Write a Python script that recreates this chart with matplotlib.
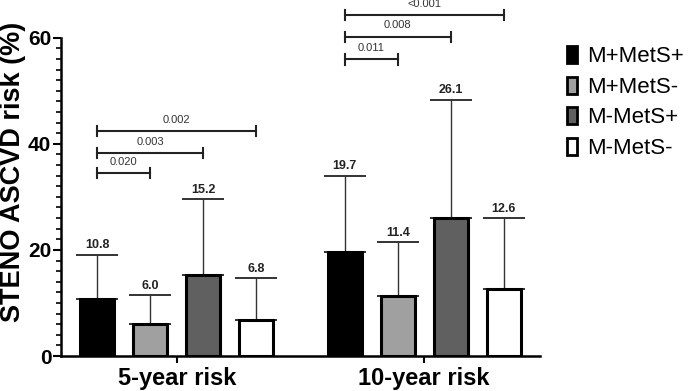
import matplotlib.pyplot as plt
from matplotlib.patches import Patch
from matplotlib.ticker import MultipleLocator

plt.rcParams['font.family'] = ['Liberation Sans', 'DejaVu Sans']

# data
periods = ['5-year risk', '10-year risk']
groups = ['M+MetS+', 'M+MetS-', 'M-MetS+', 'M-MetS-']
colors = ['#000000', '#a0a0a0', '#606060', '#ffffff']
means_5yr = [10.8, 6.0, 15.2, 6.8]
sd_5yr = [8.3, 5.5, 14.4, 7.9]
means_10yr = [19.7, 11.4, 26.1, 12.6]
sd_10yr = [14.3, 10.0, 22.2, 13.4]
# (period index, bar from, bar to, height, p-value)
pvals = [
    (0, 0, 1, 34.5, '0.020'),
    (0, 0, 2, 38.2, '0.003'),
    (0, 0, 3, 42.4, '0.002'),
    (1, 0, 1, 55.9, '0.011'),
    (1, 0, 2, 60.2, '0.008'),
    (1, 0, 3, 64.3, '<0.001'),
]

means = [means_5yr, means_10yr]
sds = [sd_5yr, sd_10yr]
step = 0.214
width = 0.137

def xpos(p, i):
    return p + (i - 1.5) * step

fig = plt.figure(figsize=(6.93, 3.91), dpi=100)
ax = fig.add_axes([0.088, 0.0895, 0.6912, 0.814])

for p in range(2):
    for i in range(4):
        x = xpos(p, i)
        m = means[p][i]
        s = sds[p][i]
        ax.errorbar(x, m, yerr=[[0], [s]], color='#333333', elinewidth=1.0,
                    capsize=15, capthick=1.4, zorder=2)
        ax.bar(x, m, width=width, color=colors[i], edgecolor='black',
               linewidth=2.2, zorder=3)
        ax.annotate(f'{m:.1f}', (x, m + s), xytext=(0, 2.5), textcoords='offset points',
                    ha='center', va='bottom', fontsize=9, fontweight='bold',
                    color='#222222')

# significance brackets
for p, a, b, y, lab in pvals:
    x1, x2 = xpos(p, a), xpos(p, b)
    ax.plot([x1, x2], [y, y], color='#222222', lw=1.5, clip_on=False)
    for xx in (x1, x2):
        ax.plot([xx, xx], [y - 0.95, y + 0.95], color='#222222', lw=1.5, clip_on=False)
    ax.text((x1 + x2) / 2, y + 1.2, lab, ha='center', va='bottom',
            fontsize=8, color='#333333', clip_on=False)

ax.set_xlim(-0.468, 1.468)
ax.set_ylim(0, 60)
ax.set_xticks([0, 1])
ax.set_xticklabels(periods, fontsize=17, fontweight='bold')
ax.yaxis.set_major_locator(MultipleLocator(20))
ax.yaxis.set_minor_locator(MultipleLocator(2))
for lab in ax.get_yticklabels():
    lab.set_fontsize(15)
    lab.set_fontweight('bold')
ax.set_ylabel('STENO ASCVD risk (%)', fontsize=19.5, fontweight='bold')
ax.yaxis.set_label_coords(-0.072, 0.578)

for side in ['top', 'right']:
    ax.spines[side].set_visible(False)
ax.spines['left'].set_linewidth(1.8)
ax.spines['bottom'].set_linewidth(1.8)
ax.tick_params(axis='y', which='major', length=6, width=1.5, pad=1)
ax.tick_params(axis='y', which='minor', length=3.5, width=1.2)
ax.tick_params(axis='x', which='major', length=5, width=1.5, pad=3)

handles = [Patch(facecolor=c, edgecolor='black', linewidth=2) for c in colors]
fig.legend(handles, groups, loc='upper left', bbox_to_anchor=(0.805, 0.905),
           frameon=False, fontsize=16, handlelength=0.45, handleheight=0.8,
           handletextpad=0.45, labelspacing=0.42, borderaxespad=0)

fig.savefig('out.png', dpi=100)
